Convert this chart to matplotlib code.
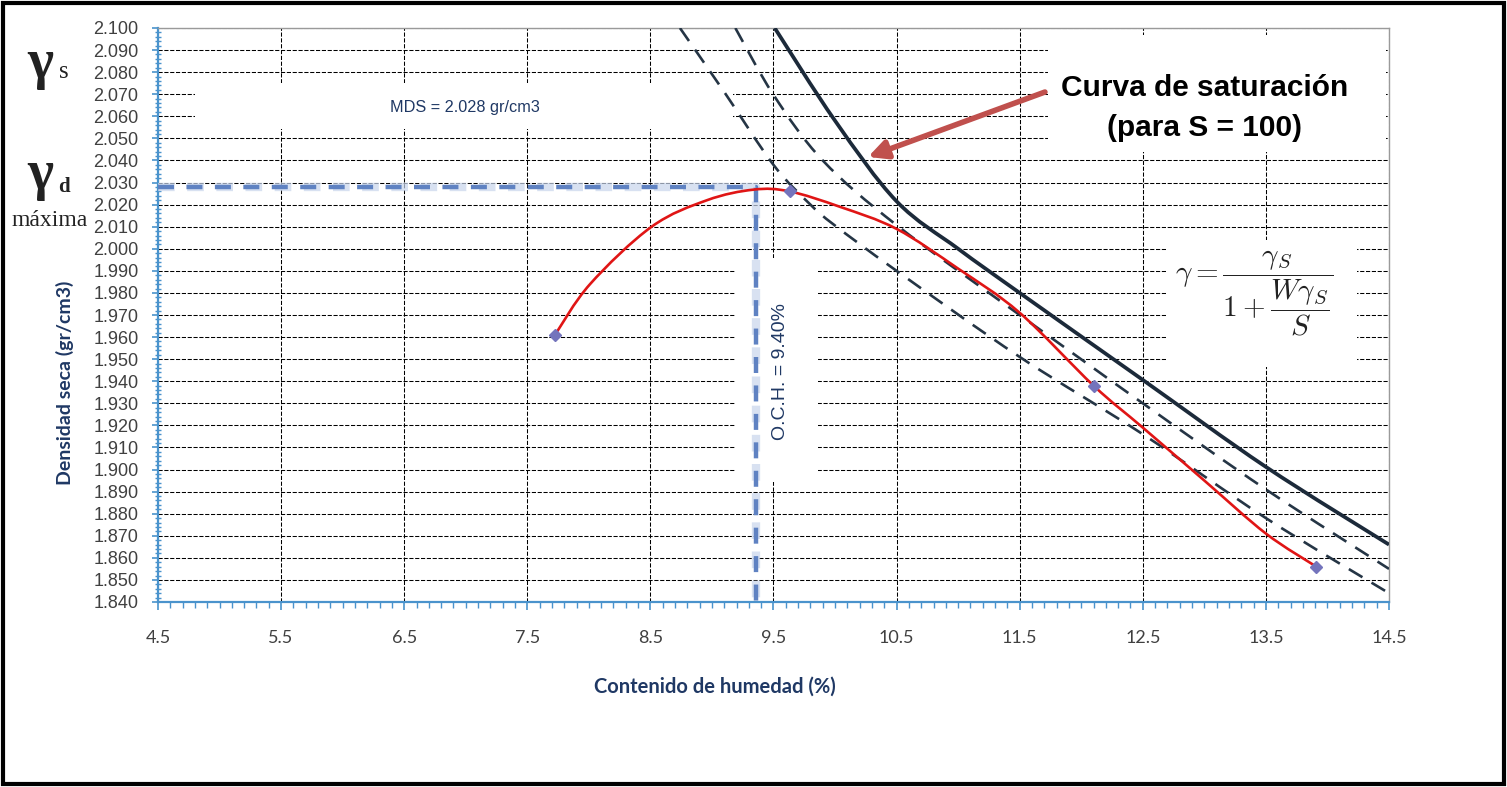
import matplotlib
matplotlib.use("Agg")
import matplotlib.pyplot as plt
from matplotlib.patches import Rectangle, PathPatch
from matplotlib.path import Path
from matplotlib.ticker import MultipleLocator, FixedLocator, FixedFormatter

# ---------------- data ----------------
# measured compaction points
moisture_pts = [7.725, 9.63, 12.10, 13.91]
density_pts = [1.961, 2.026, 1.938, 1.856]

# smoothed compaction curve
curve_w = [7.725, 8.01, 8.51, 8.96, 9.34, 9.63, 10.04, 10.50, 11.00, 11.50, 12.10,
           12.50, 13.00, 13.50, 13.91]
curve_d = [1.961, 1.984, 2.010, 2.022, 2.0268, 2.026, 2.019, 2.009, 1.991, 1.971, 1.938,
           1.919, 1.895, 1.871, 1.856]

# saturation curve S = 100 (solid)
sat100_w = [9.51, 10.00, 10.50, 11.00, 11.50, 12.50, 13.50, 14.50]
sat100_d = [2.100, 2.058, 2.0215, 2.0000, 1.980, 1.9406, 1.9012, 1.866]

# two lower-saturation curves (dashed)
satA_w = [9.19, 9.50, 9.90, 10.50, 11.50, 12.50, 13.50, 14.50]
satA_d = [2.100, 2.0697, 2.040, 2.0107, 1.970, 1.930, 1.891, 1.855]
satB_w = [8.74, 9.10, 9.50, 9.80, 10.00, 10.50, 11.50, 12.50, 13.50, 14.50]
satB_d = [2.100, 2.071, 2.038, 2.020, 2.0105, 1.990, 1.951, 1.916, 1.878, 1.844]

mds_value = 2.028
och_line_x = 9.36
mds_label = "MDS = 2.028 gr/cm3"
och_label = "O.C.H. = 9.40%"

x_ticks = [4.5, 5.5, 6.5, 7.5, 8.5, 9.5, 10.5, 11.5, 12.5, 13.5, 14.5]
x_ticklabels = ["4.5", "5.5", "6.5", "7.5", "8.5", "9.5", "10.5", "11.5", "12.5", "13.5", "14.5"]
y_ticks = [round(1.84 + 0.01 * i, 2) for i in range(27)]
y_ticklabels = ["%.3f" % v for v in y_ticks]


def smooth_path(xs, ys):
    """Excel-style smoothed line: cubic Bezier segments through the data points."""
    pts = list(zip(xs, ys))
    n = len(pts)
    verts = [pts[0]]
    codes = [Path.MOVETO]
    for i in range(n - 1):
        p0 = pts[i - 1] if i > 0 else pts[i]
        p1 = pts[i]
        p2 = pts[i + 1]
        p3 = pts[i + 2] if i + 2 < n else pts[i + 1]
        c1 = (p1[0] + (p2[0] - p0[0]) / 6.0, p1[1] + (p2[1] - p0[1]) / 6.0)
        c2 = (p2[0] - (p3[0] - p1[0]) / 6.0, p2[1] - (p3[1] - p1[1]) / 6.0)
        verts += [c1, c2, p2]
        codes += [Path.CURVE4] * 3
    return Path(verts, codes)


# ---------------- figure ----------------
W, H = 1507, 787
fig = plt.figure(figsize=(W / 100, H / 100), dpi=100)
fig.patch.set_facecolor("white")
plt.rcParams["mathtext.fontset"] = "cm"

ax = fig.add_axes([158 / W, 1 - 602 / H, (1389 - 158) / W, (602 - 28) / H])
ax.set_xlim(4.5, 14.5)
ax.set_ylim(1.84, 2.10)

blue_axis = "#4a93cc"
navy = "#1f3864"
tick_col = "#404040"

# ticks
ax.xaxis.set_major_locator(FixedLocator(x_ticks))
ax.xaxis.set_major_formatter(FixedFormatter(x_ticklabels))
ax.xaxis.set_minor_locator(MultipleLocator(0.1))
ax.yaxis.set_major_locator(FixedLocator(y_ticks))
ax.yaxis.set_major_formatter(FixedFormatter(y_ticklabels))
ax.yaxis.set_minor_locator(MultipleLocator(0.002))

ax.tick_params(axis="x", which="major", direction="out", length=6, width=1.2,
               color=blue_axis, pad=14, labelsize=13, labelcolor=tick_col)
ax.tick_params(axis="x", which="minor", direction="out", length=4, width=1.0, color=blue_axis)
ax.tick_params(axis="y", which="major", direction="out", length=4, width=1.2,
               color=blue_axis, pad=10, labelsize=13, labelcolor=tick_col)
ax.tick_params(axis="y", which="minor", direction="inout", length=4, width=1.0, color=blue_axis)
for lab in ax.get_xticklabels():
    lab.set_family("Lato")
for lab in ax.get_yticklabels():
    lab.set_family("Liberation Sans")

for s in ["left", "bottom"]:
    ax.spines[s].set_color(blue_axis)
    ax.spines[s].set_linewidth(1.6)
for s in ["top", "right"]:
    ax.spines[s].set_color("#9a9a9a")
    ax.spines[s].set_linewidth(1.0)

ax.set_axisbelow(True)
ax.grid(True, which="major", color="black", linewidth=0.75, linestyle=(0, (4, 1.6)))

# white label boxes that interrupt the grid
for (x0, y0, x1, y1) in [(4.80, 2.0543, 9.17, 2.0751),      # MDS label
                         (11.73, 2.0440, 14.475, 2.0968),    # curva de saturacion
                         (12.697, 1.9465, 14.24, 2.004),     # formula
                         (9.187, 1.8944, 9.861, 1.9958)]:    # O.C.H. label
    ax.add_patch(Rectangle((x0, y0), x1 - x0, y1 - y0, facecolor="white",
                           edgecolor="none", zorder=1))

# saturation curves
for xs, ys in [(satB_w, satB_d), (satA_w, satA_d)]:
    ax.add_patch(PathPatch(smooth_path(xs, ys), fill=False, edgecolor="#253545", lw=1.9,
                           linestyle=(0, (6, 4)), zorder=3))
ax.add_patch(PathPatch(smooth_path(sat100_w, sat100_d), fill=False, edgecolor="#1c2a3a",
                       lw=2.7, zorder=3))

# MDS / OCH guide lines
guide_x = [4.5, och_line_x, och_line_x]
guide_y = [mds_value, mds_value, 1.8365]
ax.plot(guide_x, guide_y, color="#c8d5ec", lw=6, linestyle=(0, (2.0, 1.5)),
        zorder=4, clip_on=False, alpha=0.7)
ax.plot(guide_x, guide_y, color="#5f82c2", lw=3.2, linestyle=(0, (3.6, 2.8)),
        zorder=4, clip_on=False)

# compaction curve
ax.add_patch(PathPatch(smooth_path(curve_w, curve_d), fill=False, edgecolor="#e01515",
                       lw=1.9, zorder=5))
ax.plot(moisture_pts, density_pts, linestyle="none", marker="D", markersize=6,
        color="#7474bc", zorder=6)

# texts inside plot
ax.text(6.385, 2.0638, mds_label, fontsize=11.7, color=navy, family="Liberation Sans",
        ha="left", va="center", zorder=7)
ax.text(9.553, 1.9442, och_label, fontsize=14, color=navy, family="Liberation Sans",
        rotation=90, ha="center", va="center", zorder=7)
ax.text(13.0, 2.0728, "Curva de saturación", fontsize=21.5, fontweight="bold",
        family="Liberation Sans", ha="center", va="center", color="black", zorder=7)
ax.text(13.0, 2.0547, "(para S = 100)", fontsize=21.5, fontweight="bold",
        family="Liberation Sans", ha="center", va="center", color="black", zorder=7)

ax.text(13.40, 1.9800, r"$\gamma = \dfrac{\gamma_S}{1+\dfrac{W\gamma_S}{S}}$",
        fontsize=21, ha="center", va="center", color="#222222", zorder=7)

# arrow
ax.annotate("", xy=(10.268, 2.0416), xytext=(11.705, 2.071),
            arrowprops=dict(arrowstyle="-|>", color="#c0504d", lw=4, mutation_scale=28,
                            shrinkA=0, shrinkB=0), zorder=8)

# axis titles
fig.text(715 / W, 1 - 687 / H, "Contenido de humedad (%)", fontsize=14.5, fontweight="bold",
         family="Lato", color=navy, ha="center", va="center")
fig.text(65 / W, 1 - 383 / H, "Densidad seca (gr/cm3)", fontsize=14, fontweight="bold",
         family="Lato", color=navy, ha="center", va="center", rotation=90)

# gamma labels on the left
fig.text(40 / W, 1 - 64 / H, "γ", fontsize=40, fontweight="bold", family="Liberation Serif",
         color="#222222", ha="center", va="center")
fig.text(64 / W, 1 - 72 / H, "s", fontsize=18, family="Liberation Serif",
         color="#222222", ha="center", va="center")
fig.text(40 / W, 1 - 175 / H, "γ", fontsize=40, fontweight="bold", family="Liberation Serif",
         color="#222222", ha="center", va="center")
fig.text(64 / W, 1 - 187 / H, "d", fontsize=15, fontweight="bold", family="Liberation Serif",
         color="#222222", ha="center", va="center")
fig.text(50 / W, 1 - 220 / H, "máxima", fontsize=17, family="Liberation Serif",
         color="#222222", ha="center", va="center")

# outer frame
fig.patches.append(Rectangle((3 / W, 3 / H), (W - 6) / W, (H - 6) / H, transform=fig.transFigure,
                             fill=False, edgecolor="black", linewidth=3))

fig.savefig("out.png", dpi=100, facecolor="white")
